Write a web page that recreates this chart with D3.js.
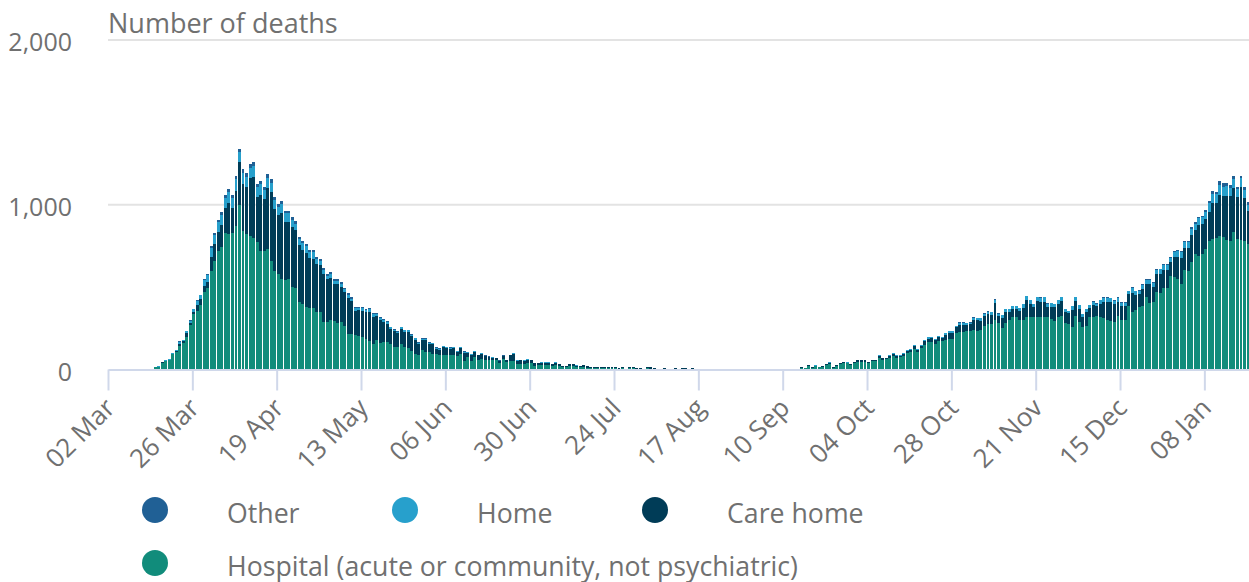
<!DOCTYPE html>
<html>
<head>
<meta charset="utf-8">
<script src="https://cdn.jsdelivr.net/npm/d3@7"></script>
<style>
  body { margin: 0; background: #fff; overflow: hidden; }
  svg text { font-family: "Open Sans", sans-serif; fill: #707070; }
</style>
</head>
<body>
<script>
// Size of the picture
var w = 1249;
var h = 582;

// first day of the daily series
var startDate = "2020-03-02";

// daily deaths by place of occurrence, one value per day from 02 Mar
var hospital = [
  0,0,0,0,0,0,0,0,0,0,
  0,1,5,15,18,42,50,56,92,108,
  145,160,200,268,335,358,390,470,495,600,
  660,720,741,830,820,830,873,1000,842,820,
  812,800,772,721,721,730,660,600,580,550,
  545,550,500,495,408,400,378,375,375,347,
  347,290,290,300,297,285,287,265,216,216,
  212,206,196,186,176,156,180,160,165,166,
  155,139,139,155,135,129,115,95,90,116,
  105,105,95,95,85,85,91,85,85,80,
  95,50,75,50,75,60,65,55,58,55,
  55,38,65,45,50,50,34,34,34,38,
  38,24,26,28,28,28,22,26,22,16,
  16,20,20,16,14,18,12,12,10,10,
  11,8,10,10,8,5,8,4,8,7,
  4,6,3,7,6,6,3,3,5,3,
  3,5,2,4,5,2,5,2,3,2,
  2,3,2,2,3,2,2,3,2,2,
  2,3,2,2,2,3,2,2,3,2,
  3,2,3,3,3,3,5,12,8,22,
  12,20,14,18,28,36,12,24,32,38,
  38,30,40,48,48,48,38,50,50,70,
  60,62,72,82,72,74,84,100,105,125,
  105,128,150,165,168,155,172,176,178,186,
  186,220,228,226,232,236,240,236,240,267,
  277,277,301,281,252,281,300,317,321,301,
  301,321,321,317,321,317,317,317,307,297,
  317,327,281,277,260,327,287,256,267,320,
  321,327,321,310,300,297,287,327,300,301,
  388,347,360,382,385,438,402,410,469,465,
  495,495,570,560,549,519,604,600,650,701,
  690,700,731,782,792,798,812,802,786,782,
  832,792,786,782,762,740
];

var careHome = [
  0,0,0,0,0,0,0,0,0,0,
  0,0,0,0,0,1,2,2,3,6,
  11,10,20,15,16,33,35,34,39,85,
  103,116,139,150,190,152,212,258,283,288,
  348,370,273,340,311,373,415,375,357,397,
  349,347,365,351,348,328,330,303,298,296,
  285,290,258,258,223,235,214,203,220,198,
  145,153,162,161,175,165,143,140,125,110,
  91,93,80,91,93,99,89,86,66,63,
  74,51,57,32,36,51,38,40,44,28,
  36,52,24,38,32,25,29,24,16,15,
  12,13,15,11,35,42,20,21,20,22,
  18,15,13,13,13,13,10,15,10,6,
  7,11,12,8,7,10,7,5,7,7,
  6,5,7,5,5,2,5,2,5,6,
  3,5,3,6,7,5,2,2,6,2,
  2,6,2,4,6,2,6,2,2,1,
  2,2,2,1,2,2,2,2,1,2,
  2,2,2,1,2,2,2,1,1,2,
  2,1,1,2,1,2,1,2,2,4,
  2,3,2,2,5,6,2,3,5,5,
  4,3,6,8,8,7,5,6,7,10,
  8,8,10,12,10,10,11,14,15,18,
  15,17,22,22,22,23,25,18,32,38,
  38,35,45,46,40,38,60,62,56,56,
  58,55,100,45,62,66,50,52,48,55,
  74,98,78,62,92,93,95,65,75,80,
  82,88,68,63,100,88,83,63,79,56,
  70,57,77,100,108,110,108,85,85,82,
  68,120,92,75,102,82,115,92,108,112,
  110,108,85,122,135,160,134,140,165,148,
  185,182,180,175,220,210,245,250,270,270,
  270,255,320,260,200,195
];

var home = [
  0,0,0,0,0,0,0,0,0,0,
  0,0,0,0,2,2,3,3,4,5,
  12,10,12,14,15,24,25,40,40,55,
  55,60,60,62,65,60,70,60,68,62,
  65,65,60,62,58,60,58,55,50,55,
  55,52,45,40,35,38,40,35,40,30,
  28,25,22,22,20,20,20,18,18,16,
  18,16,15,15,15,14,12,12,12,12,
  10,10,9,10,10,10,8,8,7,8,
  8,7,7,6,6,7,8,8,8,5,
  6,7,5,6,6,5,5,5,4,4,
  3,3,4,3,5,6,4,3,4,4,
  3,2,2,2,3,2,2,2,2,2,
  1,2,2,2,1,2,1,1,1,1,
  1,1,1,1,1,1,1,0,1,1,
  1,1,0,1,1,1,1,0,1,0,
  1,1,1,4,1,1,1,0,0,0,
  0,0,0,0,0,0,0,0,0,0,
  0,0,0,0,0,0,0,0,0,0,
  0,0,0,0,0,0,0,0,0,2,
  0,5,0,0,1,2,0,1,1,1,
  2,1,2,2,2,3,1,2,2,5,
  3,2,3,4,3,3,4,4,4,7,
  5,5,7,8,7,7,8,5,9,10,
  10,10,12,13,11,11,15,15,15,15,
  15,15,22,12,16,18,15,16,16,15,
  20,25,20,16,25,26,26,17,19,20,
  20,23,16,15,24,23,21,15,19,15,
  20,15,21,26,26,25,23,22,21,21,
  19,30,23,20,27,24,27,23,28,30,
  30,31,24,33,35,37,33,35,40,36,
  44,43,48,55,55,56,60,55,55,52,
  56,46,54,48,38,37
];

var other = [
  0,0,0,0,0,0,0,0,0,0,
  0,0,0,0,0,0,0,1,1,1,
  2,2,3,3,4,5,5,6,6,10,
  12,14,15,18,20,18,20,22,22,20,
  25,25,20,22,20,22,22,20,18,18,
  16,16,15,14,14,14,12,12,12,12,
  10,10,10,10,10,10,9,9,8,8,
  7,7,7,6,6,6,6,5,5,5,
  4,4,4,4,4,4,4,3,3,3,
  3,3,3,2,2,2,2,2,2,2,
  2,2,1,1,2,1,2,1,1,1,
  1,1,1,1,1,1,1,1,1,1,
  1,1,1,1,0,1,0,1,0,0,
  0,1,0,0,0,0,0,0,0,0,
  0,0,0,0,0,0,0,0,0,0,
  0,0,0,0,0,0,0,0,0,0,
  0,0,0,0,0,0,0,0,0,0,
  0,0,0,0,0,0,0,0,0,0,
  0,0,0,0,0,0,0,0,0,0,
  0,0,0,0,0,0,0,0,0,0,
  0,0,0,0,0,0,0,0,0,0,
  0,0,0,0,0,0,0,0,1,0,
  0,0,0,1,0,0,0,1,1,1,
  0,1,1,1,1,1,1,1,1,2,
  2,2,2,2,2,2,2,2,2,3,
  3,3,5,3,3,3,3,3,3,3,
  3,4,3,3,4,4,4,3,3,3,
  3,4,3,3,4,4,3,3,3,3,
  3,3,3,4,4,4,4,4,4,4,
  4,6,4,4,5,5,5,4,5,5,
  5,6,6,6,6,6,7,7,8,8,
  8,8,9,12,14,16,28,22,18,17,
  18,16,16,15,14,12
];

var legendNames = ["Other", "Home", "Care home", "Hospital (acute or community, not psychiatric)"];
var legendColors = ["#206095", "#27a0cc", "#003c57", "#118c7b"];

var tickDates = ["2020-03-02","2020-03-26","2020-04-19","2020-05-13","2020-06-06","2020-06-30",
  "2020-07-24","2020-08-17","2020-09-10","2020-10-04","2020-10-28","2020-11-21","2020-12-15","2021-01-08"];
var tickLabels = ["02 Mar","26 Mar","19 Apr","13 May","06 Jun","30 Jun","24 Jul",
  "17 Aug","10 Sep","04 Oct","28 Oct","21 Nov","15 Dec","08 Jan"];
var yTicks = [0, 1000, 2000];

var left = 108;
var dayWidth = 3.514;
var base = 369.5;
var plotTop = 40;

var parse = d3.timeParse("%Y-%m-%d");
var n = hospital.length;
var t0 = parse(startDate);
var days = d3.timeDay.range(t0, d3.timeDay.offset(t0, n));

var rows = days.map(function(d, i) {
  return { date: d, hospital: hospital[i], care: careHome[i], home: home[i], other: other[i] };
});

var keys = ["hospital", "care", "home", "other"];
var colors = { hospital: "#118c7b", care: "#003c57", home: "#27a0cc", other: "#206095" };

var x = d3.scaleTime()
  .domain([t0, d3.timeDay.offset(t0, n)])
  .range([left, left + n * dayWidth]);

var y = d3.scaleLinear()
  .domain([0, 2000])
  .range([base, plotTop]);

var svg = d3.select("body")
  .append("svg")
  .attr("width", w)
  .attr("height", h);

// gridlines
svg.selectAll("line.grid")
  .data(yTicks.slice(1))
  .enter()
  .append("line")
  .attr("class", "grid")
  .attr("x1", left)
  .attr("x2", w)
  .attr("y1", function(d) { return y(d); })
  .attr("y2", function(d) { return y(d); })
  .attr("stroke", "#e3e3e3")
  .attr("stroke-width", 2);

// y labels
svg.selectAll("text.ylab")
  .data(yTicks)
  .enter()
  .append("text")
  .attr("class", "ylab")
  .attr("x", 72)
  .attr("y", function(d) { return y(d) + 11; })
  .attr("text-anchor", "end")
  .attr("font-size", "25px")
  .text(d3.format(","));

svg.append("text")
  .attr("x", left)
  .attr("y", 33)
  .attr("font-size", "27px")
  .text("Number of deaths");

// stacked bars
var stacked = d3.stack().keys(keys)(rows);

svg.selectAll("g.layer")
  .data(stacked)
  .enter()
  .append("g")
  .attr("class", "layer")
  .attr("fill", function(d) { return colors[d.key]; })
  .attr("shape-rendering", "crispEdges")
  .selectAll("rect")
  .data(function(d) { return d; })
  .enter()
  .append("rect")
  .attr("x", function(d) { return x(d.data.date); })
  .attr("width", function(d) { return x(d3.timeDay.offset(d.data.date, 1)) - x(d.data.date) - 0.55; })
  .attr("y", function(d) { return y(d[1]); })
  .attr("height", function(d) { return y(d[0]) - y(d[1]); });

// x axis
var xAxis = d3.axisBottom(x)
  .tickValues(tickDates.map(parse))
  .tickFormat(function(d, i) { return tickLabels[i]; })
  .tickSize(21)
  .tickSizeOuter(0);

var gx = svg.append("g")
  .attr("transform", "translate(0," + base + ")")
  .call(xAxis);

gx.attr("font-family", null).attr("font-size", null);
gx.select(".domain").attr("stroke", "#d0d8ea").attr("stroke-width", 2);
gx.selectAll(".tick line").attr("stroke", "#d0d8ea").attr("stroke-width", 2);
gx.selectAll(".tick text")
  .attr("x", 0)
  .attr("y", 0)
  .attr("dy", 0)
  .attr("text-anchor", "end")
  .attr("font-size", "26px")
  .attr("transform", "translate(8,40) rotate(-45)");

// legend
var legend = svg.selectAll("g.legend")
  .data(legendNames)
  .enter()
  .append("g")
  .attr("class", "legend")
  .attr("transform", function(d, i) {
    return "translate(" + (155 + 250 * (i % 3)) + "," + (510 + 53 * Math.floor(i / 3)) + ")";
  });

legend.append("circle")
  .attr("r", 13)
  .attr("fill", function(d, i) { return legendColors[i]; });

legend.append("text")
  .attr("x", 72)
  .attr("y", 13)
  .attr("font-size", "26.7px")
  .text(function(d) { return d; });
</script>
</body>
</html>
